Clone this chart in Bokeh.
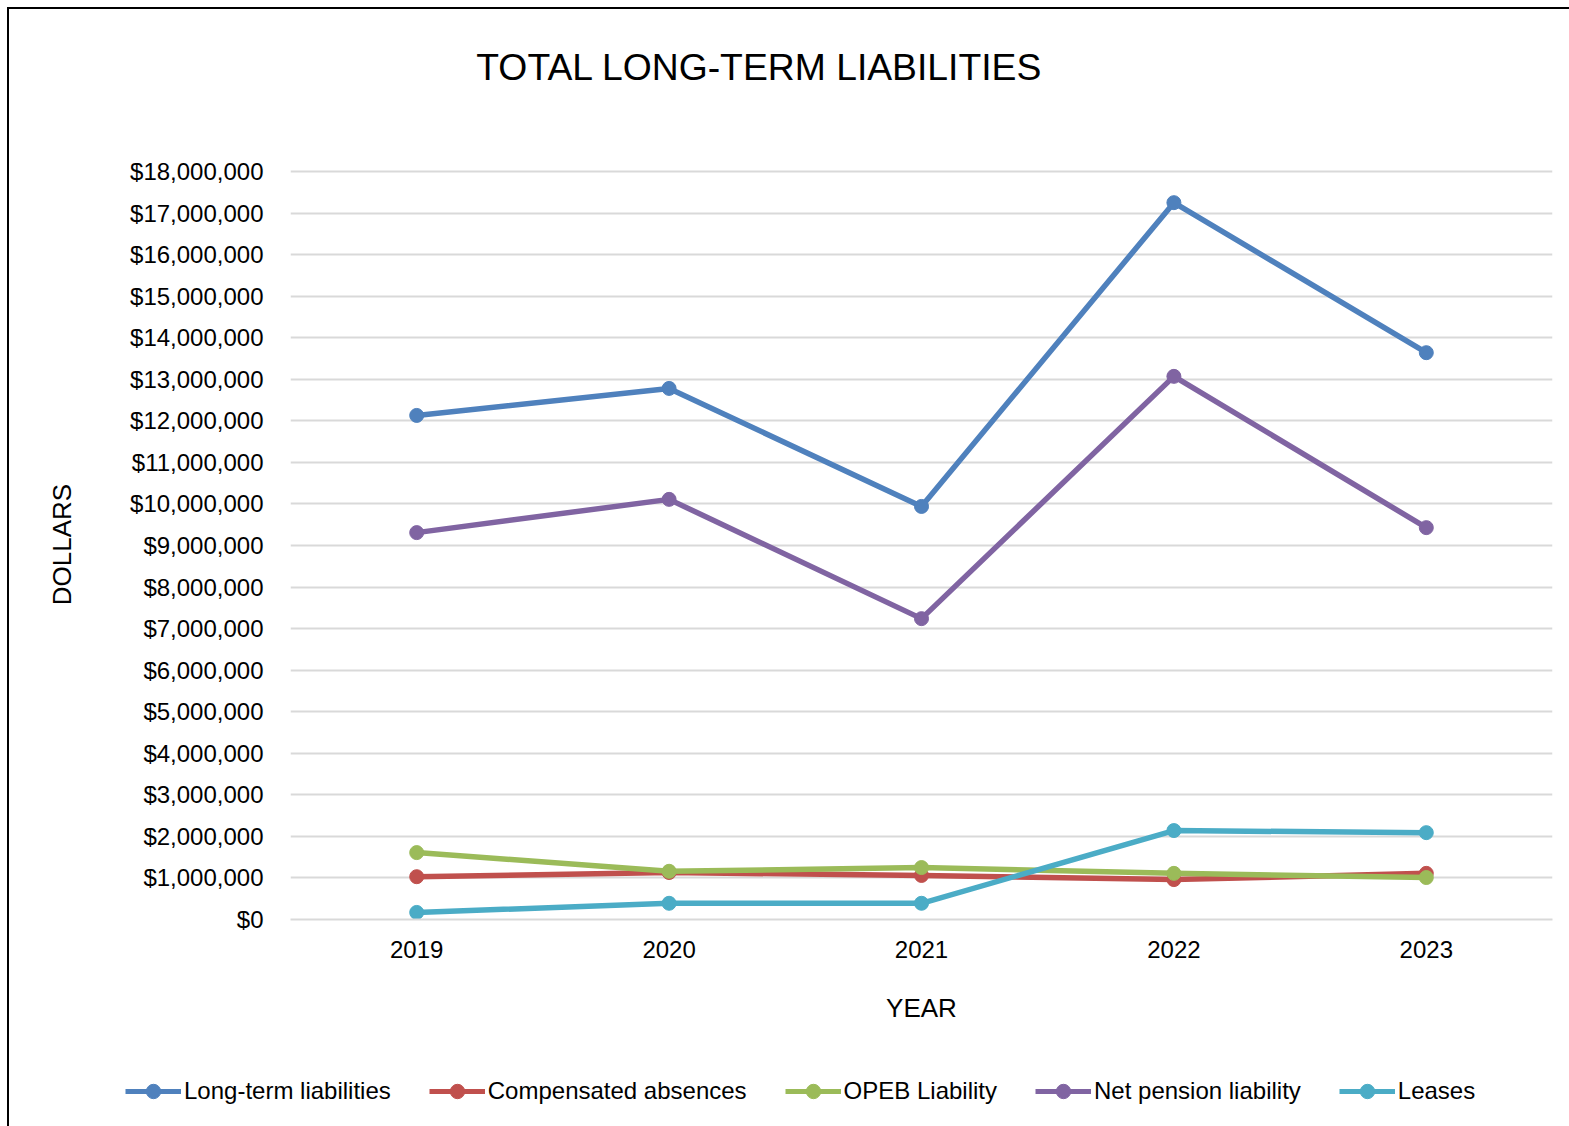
from bokeh.plotting import figure
from bokeh.layouts import column, row
from bokeh.models import (Range1d, FixedTicker, NumeralTickFormatter,
                          Legend, LegendItem, Label)
from bokeh.embed import file_html
from bokeh.resources import INLINE

years = [2019, 2020, 2021, 2022, 2023]
year_labels = ["2019", "2020", "2021", "2022", "2023"]
long_term = [12.13e6, 12.78e6, 9.94e6, 17.25e6, 13.64e6]
comp_abs = [1.03e6, 1.13e6, 1.06e6, 0.96e6, 1.11e6]
opeb = [1.61e6, 1.16e6, 1.25e6, 1.11e6, 1.01e6]
pension = [9.31e6, 10.11e6, 7.24e6, 13.07e6, 9.43e6]
leases = [0.17e6, 0.39e6, 0.39e6, 2.14e6, 2.09e6]
y_ticks = [i * 1e6 for i in range(0, 19)]

series_names = ["Long-term liabilities", "Compensated absences", "OPEB Liability",
                "Net pension liability", "Leases"]
series_values = [long_term, comp_abs, opeb, pension, leases]
colors = ["#4F81BD", "#C0504D", "#9BBB59", "#8064A2", "#4BACC6"]

FONT = "Liberation Sans"
LINE_W = 5.5
MARK = 14
W = 1560

PX_PER_UNIT = 748 / 18e6
Y_TOP = 18e6 + 2 / PX_PER_UNIT   # tiny headroom so the top gridline is not clipped


def strip(height, xr, yr):
    f = figure(width=W, height=height, output_backend="svg", toolbar_location=None,
               x_range=xr, y_range=yr, x_axis_type=None, y_axis_type=None,
               min_border_left=0, min_border_right=0,
               min_border_top=0, min_border_bottom=0)
    f.grid.visible = False
    f.outline_line_color = None
    f.border_fill_color = "white"
    f.background_fill_color = "white"
    return f


# title strip (its frame is aligned with the chart frame by the column layout)
top = strip(130, Range1d(0, 1262), Range1d(0, 130))
top.add_layout(Label(x=469, y=73, text="TOTAL LONG-TERM LIABILITIES",
                     text_font=FONT, text_font_size="37.3px", text_align="center",
                     text_baseline="middle", text_color="black"))

# main chart
p = figure(width=W, height=911, output_backend="svg", toolbar_location=None,
           x_range=Range1d(2018.5, 2023.5), y_range=Range1d(0, Y_TOP),
           min_border_left=281, min_border_right=17, min_border_top=30,
           min_border_bottom=131)
p.outline_line_color = None
p.background_fill_color = "white"
p.border_fill_color = "white"

p.xgrid.grid_line_color = None
p.ygrid.grid_line_color = "#D9D9D9"
p.ygrid.grid_line_width = 2
p.yaxis.ticker = FixedTicker(ticks=y_ticks)
p.ygrid.ticker = FixedTicker(ticks=y_ticks)
p.yaxis.formatter = NumeralTickFormatter(format="$0,0")
p.xaxis.ticker = FixedTicker(ticks=years)
p.xaxis.major_label_overrides = {y: s for y, s in zip(years, year_labels)}

for ax in (p.xaxis[0], p.yaxis[0]):
    ax.major_tick_line_color = None
    ax.minor_tick_line_color = None
    ax.major_label_text_font = FONT
    ax.major_label_text_font_size = "24px"
    ax.major_label_text_color = "black"
    ax.axis_label_text_font = FONT
    ax.axis_label_text_font_size = "26px"
    ax.axis_label_text_font_style = "normal"
    ax.axis_label_text_color = "black"
p.yaxis.axis_line_color = None
p.xaxis.axis_line_color = "#D9D9D9"
p.xaxis.axis_line_width = 2
p.yaxis.major_label_standoff = 21
p.xaxis.major_label_standoff = 15
p.yaxis.axis_label = "DOLLARS"
p.xaxis.axis_label = "YEAR"
p.yaxis.axis_label_standoff = 50
p.xaxis.axis_label_standoff = 32

for name, vals, col in zip(series_names, series_values, colors):
    p.line(years, vals, line_color=col, line_width=LINE_W, line_join="round")
    p.scatter(years, vals, size=MARK, fill_color=col, line_color=col)

# legend strip (series drawn off-view, only their legend swatches show)
lg = strip(76, Range1d(0, 1), Range1d(0, 1))
items = []
for name, vals, col in zip(series_names, series_values, colors):
    ln = lg.line(years, vals, line_color=col, line_width=5, line_join="round")
    sc = lg.scatter(years, vals, size=MARK, fill_color=col, line_color=col)
    items.append(LegendItem(label=name, renderers=[ln, sc]))

legend = Legend(items=items, orientation="horizontal", location=(116, 17),
                label_text_font=FONT, label_text_font_size="24px",
                label_text_color="black",
                label_standoff=3, spacing=38, glyph_width=56, glyph_height=36,
                padding=0, margin=0, border_line_color=None,
                background_fill_alpha=0)
lg.add_layout(legend, "center")

page = column(top, p, row(lg, spacing=0), spacing=0)
page.styles = {"margin-left": "7px", "margin-top": "7px",
               "border-left": "2px solid black", "border-top": "2px solid black"}

open("out.html", "w").write(file_html(page, INLINE))
